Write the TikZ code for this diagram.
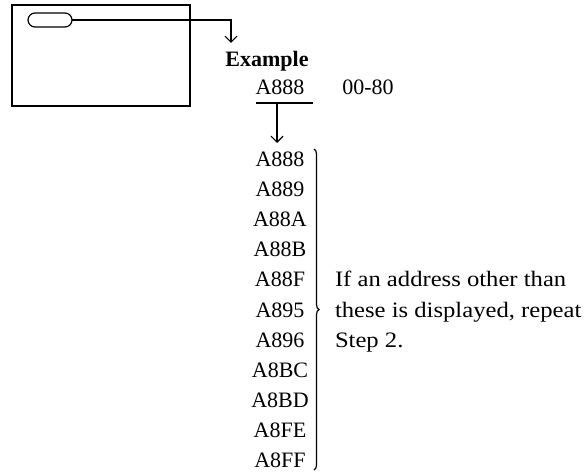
\documentclass[tikz,border=0pt]{standalone}
\usepackage{fontspec}
\setmainfont{Liberation Serif}
\newfontfamily\widefont[FakeStretch=1.12]{Liberation Serif}
\usetikzlibrary{arrows.meta,decorations.pathreplacing}
\begin{document}
\begin{tikzpicture}[x=1pt,y=-1pt,
  every node/.style={inner sep=0pt,outer sep=0pt},
  lbl/.style={anchor=base,font=\fontsize{22}{24}\selectfont},
  expl/.style={anchor=base west,font=\fontsize{22}{24}\selectfont\widefont},
  ln/.style={line width=1.2pt},
  arr/.style={ln,-{Straight Barb[length=6pt,width=12pt]}}]
\useasboundingbox (0,0) rectangle (584,473);
% display box
\node[draw,line width=1.4pt,minimum width=178pt,minimum height=101pt] (box) at (101,55.5) {};
\node[draw,ln,rounded corners=7pt,minimum width=44pt,minimum height=14pt] (pill) at (50,20) {};
\coordinate (t1) at (231,43);
\draw[arr] (pill.east) -| (t1);
\node[lbl,font=\fontsize{22}{24}\selectfont\bfseries] (ex) at (267,67) {Example};
\node[lbl] (a0) at (280,95) {A888};
\node[lbl] (code) at (368,95) {00-80};
\coordinate (u1) at (256,103);
\coordinate (u2) at (313,103);
\draw[ln] (u1) -- (u2);
\coordinate (s1) at (277,103);
\coordinate (s2) at (277,143);
\draw[arr] (s1) -- (s2);
% list
\foreach \t [count=\i from 0] in {A888,A889,A88A,A88B,A88F,A895,A896,A8BC,A8BD,A8FE,A8FF}{
  \node[lbl] (r\i) at (280,{167+30*\i}) {\t};
}
\coordinate (b1) at (314,149);
\coordinate (b2) at (314,470);
\draw[ln,decorate,decoration={brace,amplitude=5pt}] (b1) -- (b2);
\node[expl] (e1) at (335,287) {If an address other than};
\node[expl] (e2) at (335,317) {these is displayed, repeat};
\node[expl] (e3) at (335,347) {Step 2.};
\end{tikzpicture}
\end{document}
